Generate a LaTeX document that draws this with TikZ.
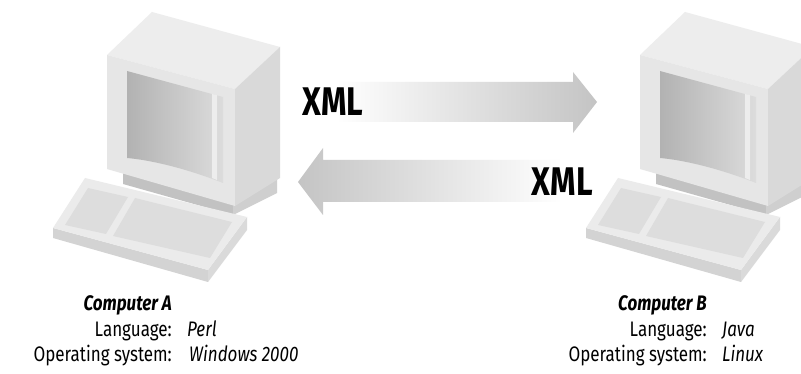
\documentclass[tikz,border=0pt]{standalone}
\usepackage{fontspec}
\setmainfont{Fira Sans}[FakeStretch=0.81]

\definecolor{casetop}{HTML}{EDEDED}
\definecolor{casefront}{HTML}{E6E6E6}
\definecolor{caseside}{HTML}{D9D9D9}
\definecolor{screendark}{HTML}{B2B2B2}
\definecolor{screenlight}{HTML}{DCDCDC}
\definecolor{standfront}{HTML}{C2C2C2}
\definecolor{standside}{HTML}{CFCFCF}
\definecolor{kbtop}{HTML}{EBEBEB}
\definecolor{kbkeys}{HTML}{DDDDDD}
\definecolor{kbfront}{HTML}{D3D3D3}
\definecolor{kbside}{HTML}{DADADA}
\definecolor{arrowgray}{HTML}{C4C4C4}

\tikzset{
  lbl/.style={inner sep=0pt, font=\fontsize{21}{21}\selectfont},
  keylbl/.style={lbl, anchor=base east},
  namelbl/.style={keylbl, font=\fontsize{21}{21}\selectfont\bfseries\itshape},
  vallbl/.style={lbl, anchor=base west, font=\fontsize{21}{21}\selectfont\itshape},
  xmltxt/.style={inner sep=0pt, font=\fontsize{40}{40}\selectfont\bfseries},
  computer/.pic={
    % stand
    \fill[standfront] (123,169) -- (233,200) -- (233,215) -- (123,184) -- cycle;
    \fill[standside] (233,200) -- (277,176) -- (277,193) -- (233,215) -- cycle;
    % monitor
    \fill[casetop] (107,55) -- (152,12) -- (280,47) -- (235,89) -- cycle;
    \fill[casefront] (107,55) -- (235,89) -- (235,206) -- (107,169) -- cycle;
    \fill[caseside] (235,89) -- (280,47) -- (280,178) -- (235,206) -- cycle;
    \shade[left color=screendark, right color=screenlight] (127,71) -- (223,97) -- (223,183) .. controls (185,168) and (150,160) .. (127,158) -- cycle;
    \fill[screenlight!50!white] (212,94) -- (217,95) -- (217,180) -- (212,178) -- cycle;
    % keyboard
    \fill[kbfront] (53,228) -- (208,270) -- (208,282) -- (53,238) -- cycle;
    \fill[kbside] (208,270) -- (247,217) -- (247,230) -- (208,282) -- cycle;
    \fill[kbtop] (53,228) -- (85,178) -- (247,217) -- (208,270) -- cycle;
    \fill[kbkeys] (65,225) -- (88,188) -- (128,197) -- (106,234) -- cycle;
    \fill[kbkeys] (113,236) -- (135,198) -- (232,222) -- (210,258) -- cycle;
  }
}

\begin{document}
\begin{tikzpicture}[x=1pt,y=-1pt]
  \useasboundingbox (0,0) rectangle (801,374);
  \clip (0,0) rectangle (801,374);
  \fill[white] (0,0) rectangle (801,374);

  % the two machines
  \pic (compA) at (0,0) {computer};
  \pic (compB) at (533,0) {computer};

  % messages
  \shade[left color=white, right color=arrowgray] (336,82) -- (573,82) -- (573,72) -- (597,102) -- (573,133) -- (573,122) -- (336,122) -- cycle;
  \shade[left color=arrowgray, right color=white] (298,182) -- (323,148) -- (323,160) -- (562,160) -- (562,202) -- (323,202) -- (323,215) -- cycle;
  \node[xmltxt, anchor=west] (xmlAB) at (302,102) {XML};
  \node[xmltxt, anchor=east] (xmlBA) at (593,182) {XML};

  % captions
  \node[namelbl] (nameA) at (172,311) {Computer A};
  \node[keylbl] (langA) at (172,336) {Language:};
  \node[vallbl] (langvalA) at (187,336) {Perl};
  \node[keylbl] (osA) at (172,361) {Operating system:};
  \node[vallbl] (osvalA) at (189,361) {Windows 2000};

  \node[namelbl] (nameB) at (707,311) {Computer B};
  \node[keylbl] (langB) at (707,336) {Language:};
  \node[vallbl] (langvalB) at (722,336) {Java};
  \node[keylbl] (osB) at (707,361) {Operating system:};
  \node[vallbl] (osvalB) at (722,361) {Linux};
\end{tikzpicture}
\end{document}
